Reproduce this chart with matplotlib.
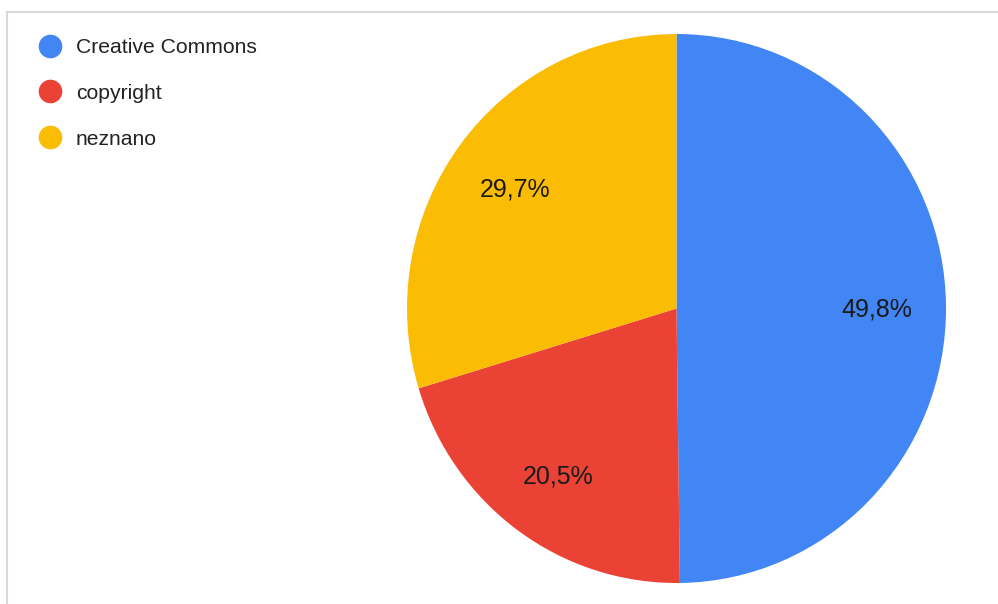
import matplotlib.pyplot as plt
from matplotlib.lines import Line2D

plt.rcParams['font.family'] = ['Liberation Sans', 'DejaVu Sans']

categories = ['Creative Commons', 'copyright', 'neznano']
shares = [49.8, 20.5, 29.7]
colors = ['#4285F4', '#EA4335', '#FBBC04']

W, H = 998, 604
fig = plt.figure(figsize=(W / 100, H / 100), dpi=100)

# pie occupies x 407..946, y 34..583 (px, from top)
ax = fig.add_axes([407 / W, (H - 583) / H, 539 / W, 549 / H])
wedges, texts, autotexts = ax.pie(
    shares, colors=colors, startangle=90, counterclock=False,
    autopct=lambda p: f'{p:.1f}%'.replace('.', ','), pctdistance=0.745,
    wedgeprops=dict(linewidth=0),
    textprops=dict(fontsize=18, color='#1a1a1a'))
for t in autotexts:
    t.set_verticalalignment('center_baseline')
ax.set_aspect('auto')
ax.set_xlim(-1, 1)
ax.set_ylim(-1, 1)
ax.axis('off')

handles = [Line2D([], [], linestyle='none', marker='o', markersize=16,
                  markerfacecolor=c, markeredgecolor=c) for c in colors]
fig.legend(handles, categories, loc='upper left',
           bbox_to_anchor=(39 / W, 1 - 38 / H), frameon=False,
           fontsize=15.2, labelcolor='#222222', handlelength=1.0,
           handletextpad=0.75, labelspacing=1.27, borderpad=0,
           borderaxespad=0)

# light grey frame edges visible at top and left
fig.add_artist(Line2D([7 / W, 1], [1 - 12 / H, 1 - 12 / H], color='#d9d9d9', lw=1.5))
fig.add_artist(Line2D([7 / W, 7 / W], [0, 1 - 12 / H], color='#d9d9d9', lw=1.5))

fig.savefig('out.png', dpi=100)
